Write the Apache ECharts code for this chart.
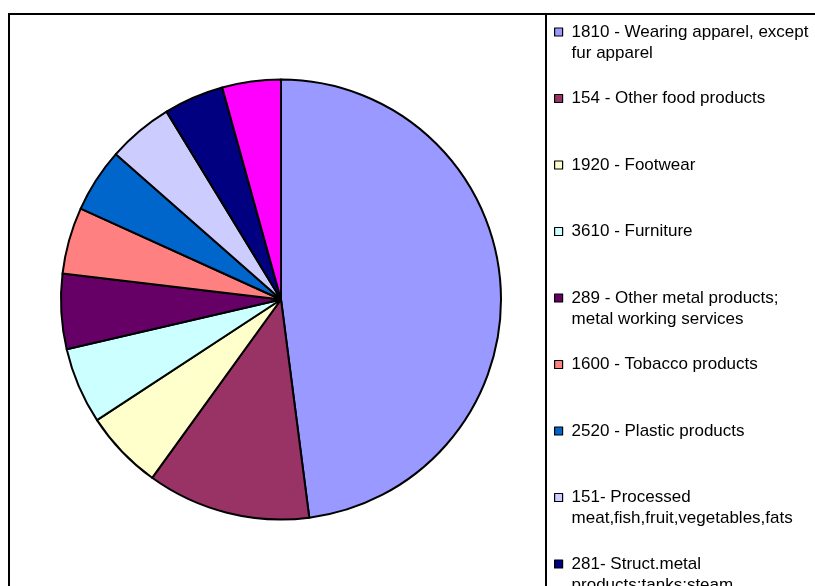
<!DOCTYPE html>
<html>
<head>
<meta charset="utf-8">
<script src="https://cdn.jsdelivr.net/npm/echarts@6/dist/echarts.min.js"></script>
<style>
  html, body { margin: 0; padding: 0; background: #fff; }
  #chart { width: 815px; height: 586px; }
</style>
</head>
<body>
<div id="chart"></div>
<script>
// Industry categories (ISIC codes), legend labels wrapped as in the key
const categories = [
  '1810 - Wearing apparel, except\nfur apparel',
  '154 - Other food products',
  '1920 - Footwear',
  '3610 - Furniture',
  '289 - Other metal products;\nmetal working services',
  '1600 - Tobacco products',
  '2520 - Plastic products',
  '151- Processed\nmeat,fish,fruit,vegetables,fats',
  '281- Struct.metal\nproducts;tanks;steam',
  '269 - Non-metallic mineral products'
];

// Share of each industry (%)
const shares = [47.9, 12.0, 5.8, 5.6, 5.5, 4.9, 4.7, 4.8, 4.4, 4.3];

const sliceColors = [
  '#9999FF', '#993366', '#FFFFCC', '#CCFFFF', '#660066',
  '#FF8080', '#0066CC', '#CCCCFF', '#000080', '#FF00FF'
];

const chart = echarts.init(document.getElementById('chart'), null, { renderer: 'canvas' });

const pieData = categories.map((name, i) => ({
  name: name,
  value: shares[i],
  itemStyle: { color: sliceColors[i] }
}));

// Pad each legend label to three lines so the marker sits beside the first line
function legendLabel(name) {
  const lines = name.split('\n');
  if (lines.length === 1) return '\n' + name + '\n';
  return '\n' + name;
}

chart.setOption({
  backgroundColor: '#ffffff',
  animation: false,
  graphic: [
    {
      type: 'rect',
      shape: { x: 9, y: 14, width: 900, height: 700 },
      style: { fill: null, stroke: '#000', lineWidth: 2 },
      silent: true,
      z: 0
    },
    {
      type: 'line',
      shape: { x1: 546, y1: 14, x2: 546, y2: 700 },
      style: { stroke: '#000', lineWidth: 2 },
      silent: true,
      z: 0
    }
  ],
  legend: {
    orient: 'vertical',
    left: 554,
    top: 0.5,
    height: 2000,
    padding: 0,
    itemGap: 3.5,
    itemWidth: 8,
    itemHeight: 8,
    icon: 'rect',
    selectedMode: false,
    itemStyle: { borderColor: '#000', borderWidth: 1.2 },
    formatter: legendLabel,
    textStyle: {
      fontFamily: 'Liberation Sans, Arial, sans-serif',
      fontSize: 17,
      lineHeight: 21,
      color: '#000',
      padding: [0, 0, 0, 4]
    },
    data: categories
  },
  series: [
    {
      type: 'pie',
      center: [281, 299.5],
      radius: [0, 220],
      startAngle: 90,
      clockwise: true,
      avoidLabelOverlap: false,
      label: { show: false },
      labelLine: { show: false },
      emphasis: { disabled: true },
      itemStyle: { borderColor: '#000', borderWidth: 2 },
      data: pieData
    }
  ]
});
</script>
</body>
</html>
